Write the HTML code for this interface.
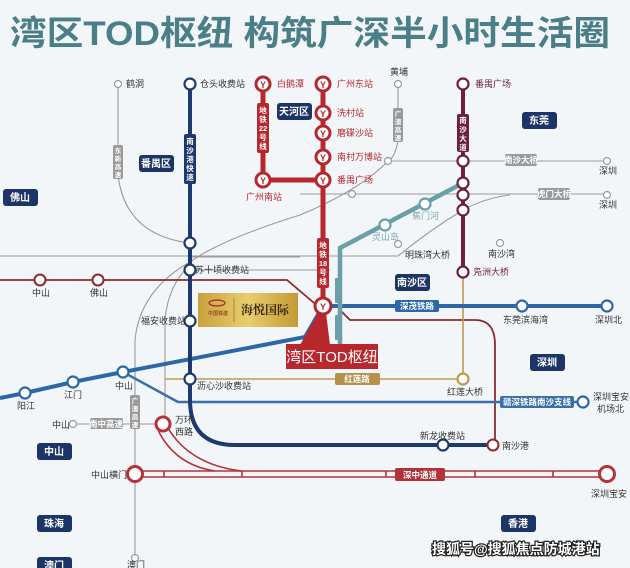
<!DOCTYPE html>
<html><head><meta charset="utf-8"><style>
html,body{margin:0;padding:0;background:#f3f6f8;}
svg{display:block;font-family:"Liberation Sans","Noto Sans CJK SC",sans-serif;}
</style></head><body>
<svg width="630" height="568" viewBox="0 0 630 568" xmlns="http://www.w3.org/2000/svg">
<rect width="630" height="568" fill="#f3f6f8"/>
<text x="10" y="45" font-size="34" font-weight="bold" fill="#4a7f88" font-family="Liberation Sans,Noto Sans CJK SC,sans-serif" textLength="600" lengthAdjust="spacingAndGlyphs">湾区TOD枢纽 构筑广深半小时生活圈</text>

<g fill="none" stroke="#9a9a9a" stroke-width="1.1">
<path d="M118,84 V175 Q125,235 190,243"/>
<path d="M398,84 V140 Q395,158 388,161 Q360,190 300,215 Q220,240 190,262 Q140,290 135,340 V558"/>
<path d="M190,265 Q168,285 165,320 V424"/>
<path d="M388,161 H607"/>
<path d="M300,194 H607"/>
<path d="M190,257 H300"/>
<path d="M190,270 H330"/>
<path d="M0,256 H398 Q430,230 463,210 Q485,198 510,195"/>
<path d="M73,424 H163"/>
</g>

<path d="M0,280 H287 L320,308 M340,310 L350,320 H475 Q495,320 495,345 V440" fill="none" stroke="#8a2c2c" stroke-width="1.8"/>
<path d="M165,379 H463 M463,272 V379" fill="none" stroke="#c09a4e" stroke-width="1.6"/>

<g fill="none" stroke="#b3333a" stroke-width="1.6">
<path d="M135,471 H607 M135,477 H607"/>
<path d="M158,430 Q175,465 215,471 M168,428 Q190,465 242,471"/>
<path d="M164,471 V477 M242,471 V477 M386,471 V477 M475,471 V477 M553,471 V477"/>
</g>

<path d="M123,372 L178,402 H582" fill="none" stroke="#3a6fa8" stroke-width="2.5"/>
<path d="M0,398 L25,393 L73,382 L123,372 L305,337 L323,306 H607" fill="none" stroke="#2c68a8" stroke-width="4"/>
<path d="M190,84 V400 Q190,445 235,445 H493" fill="none" stroke="#1d3a6e" stroke-width="4"/>
<path d="M463,183 L340,248 V345" fill="none" stroke="#6a9ea8" stroke-width="4.5"/>
<path d="M463,84 V272" fill="none" stroke="#6c1f40" stroke-width="4"/>
<path d="M263,84 V180 H323 M323,84 V306" fill="none" stroke="#b7282e" stroke-width="5"/>

<g font-size="7.5" fill="#fff" text-anchor="middle" font-weight="bold">
<rect x="184" y="134" width="12" height="50" rx="2" fill="#1d3a6e"/>
<text x="190" y="144">南</text><text x="190" y="153">沙</text><text x="190" y="162">港</text><text x="190" y="171">快</text><text x="190" y="180">速</text>
<rect x="257" y="103" width="12" height="50" rx="2" fill="#b7282e"/>
<text x="263" y="113">地</text><text x="263" y="122">铁</text><text x="263" y="131">22</text><text x="263" y="140">号</text><text x="263" y="149">线</text>
<rect x="317" y="238" width="12" height="50" rx="2" fill="#b7282e"/>
<text x="323" y="248">地</text><text x="323" y="257">铁</text><text x="323" y="266">18</text><text x="323" y="275">号</text><text x="323" y="284">线</text>
<rect x="457" y="114" width="12" height="38" rx="2" fill="#6c1f40"/>
<text x="463" y="123">南</text><text x="463" y="132">沙</text><text x="463" y="141">大</text><text x="463" y="150">道</text>
<rect x="113" y="145" width="10" height="34" rx="2" fill="#9a9a9a"/>
<text x="118" y="153" font-size="6.5">东</text><text x="118" y="161" font-size="6.5">新</text><text x="118" y="169" font-size="6.5">高</text><text x="118" y="177" font-size="6.5">速</text>
<rect x="393" y="108" width="10" height="34" rx="2" fill="#9a9a9a"/>
<text x="398" y="116" font-size="6.5">广</text><text x="398" y="124" font-size="6.5">澳</text><text x="398" y="132" font-size="6.5">高</text><text x="398" y="140" font-size="6.5">速</text>
<rect x="130" y="395" width="10" height="34" rx="2" fill="#9a9a9a"/>
<text x="135" y="403" font-size="6.5">广</text><text x="135" y="411" font-size="6.5">澳</text><text x="135" y="419" font-size="6.5">高</text><text x="135" y="427" font-size="6.5">速</text>
<rect x="335" y="278" width="7" height="25" rx="1" fill="#6a9ea8"/>
<rect x="335" y="315" width="7" height="25" rx="1" fill="#6a9ea8"/>
<g font-size="8.5">
<rect x="395" y="300" width="44" height="12" rx="2" fill="#2c68a8"/><text x="417" y="309">深茂铁路</text>
<rect x="505" y="154" width="32" height="12" rx="2" fill="#9a9a9a"/><text x="521" y="163">南沙大桥</text>
<rect x="538" y="188" width="32" height="12" rx="2" fill="#9a9a9a"/><text x="554" y="197">虎门大桥</text>
<rect x="335" y="373" width="45" height="12" rx="2" fill="#b5914a"/><text x="357" y="382">红莲路</text>
<rect x="500" y="396" width="74" height="12" rx="2" fill="#3a6fa8"/><text x="537" y="405">赣深铁路南沙支线</text>
<rect x="90" y="418" width="33" height="11" rx="2" fill="#9a9a9a"/><text x="106" y="427">南中高速</text>
<rect x="395" y="468" width="50" height="13" rx="2" fill="#b3333a"/><text x="420" y="478">深中通道</text>
</g>
</g>

<g fill="#fff" stroke="#1d3a6e" stroke-width="2.2">
<circle cx="190" cy="84" r="5.5"/><circle cx="190" cy="243" r="5.5"/><circle cx="190" cy="270" r="5.5"/>
<circle cx="190" cy="321" r="5.5"/><circle cx="190" cy="379" r="5.5"/><circle cx="443" cy="445" r="5.5"/>
</g>
<g fill="#fff" stroke="#2c68a8" stroke-width="2.2">
<circle cx="25" cy="393" r="5.5"/><circle cx="73" cy="382" r="5.5"/><circle cx="123" cy="372" r="5.5"/>
<circle cx="522" cy="306" r="5.5"/><circle cx="607" cy="306" r="5.5"/><circle cx="583" cy="402" r="5.5"/>
</g>
<g fill="#fff" stroke="#6c1f40" stroke-width="2.2">
<circle cx="463" cy="84" r="5.5"/><circle cx="463" cy="161" r="5.5"/><circle cx="463" cy="183" r="5.5"/>
<circle cx="463" cy="195" r="5.5"/><circle cx="463" cy="210" r="5.5"/><circle cx="463" cy="272" r="5.5"/>
</g>
<g fill="#fff" stroke="#6a9ea8" stroke-width="2.2"><circle cx="425" cy="204" r="5.5"/><circle cx="385" cy="225" r="5.5"/></g>
<circle cx="463" cy="379" r="5.5" fill="#fff" stroke="#c09a4e" stroke-width="2.2"/>
<g fill="#fff" stroke="#8a2c2c" stroke-width="2"><circle cx="40" cy="280" r="5.5"/><circle cx="98" cy="280" r="5.5"/><circle cx="493" cy="445" r="5.5"/></g>
<g fill="#fff" stroke="#b3333a" stroke-width="3"><circle cx="163" cy="424" r="7"/><circle cx="135" cy="474" r="7.5"/><circle cx="607" cy="474" r="7.5"/></g>
<g fill="#fff" stroke="#9a9a9a" stroke-width="1.2">
<circle cx="118" cy="84" r="3.5"/><circle cx="398" cy="84" r="3.5"/><circle cx="388" cy="161" r="3.5"/><circle cx="352" cy="194" r="3.5"/>
<circle cx="607" cy="161" r="3.5"/><circle cx="607" cy="195" r="3.5"/><circle cx="398" cy="244" r="3.5"/><circle cx="500" cy="243" r="3.5"/>
<circle cx="73" cy="424" r="3.5"/><circle cx="135" cy="558" r="3.5"/>
</g>
<g fill="#fff" stroke="#b7282e" stroke-width="3">
<circle cx="263" cy="84" r="7"/><circle cx="263" cy="180" r="7"/><circle cx="323" cy="84" r="7"/><circle cx="323" cy="113" r="7"/>
<circle cx="323" cy="133" r="7"/><circle cx="323" cy="157" r="7"/><circle cx="323" cy="180" r="7"/><circle cx="323" cy="306" r="8"/>
</g>
<g fill="#b7282e" font-size="9" text-anchor="middle" font-weight="bold">
<text x="263" y="88">Y</text><text x="263" y="184">Y</text><text x="323" y="88">Y</text><text x="323" y="117">Y</text>
<text x="323" y="137">Y</text><text x="323" y="161">Y</text><text x="323" y="184">Y</text><text x="323" y="310">Y</text>
</g>

<g font-size="9" fill="#333">
<text x="126" y="87">鹤洞</text><text x="200" y="87">仓头收费站</text><text x="195" y="273">苏十顷收费站</text>
<text x="141" y="324">福安收费站</text><text x="197" y="389">沥心沙收费站</text><text x="420" y="439">新龙收费站</text>
<text x="502" y="449">南沙港</text><text x="390" y="75">黄埔</text>
<text x="599" y="174">深圳</text><text x="599" y="208">深圳</text><text x="405" y="258">明珠湾大桥</text><text x="488" y="257">南沙湾</text>
<text x="32" y="296">中山</text><text x="90" y="296">佛山</text><text x="17" y="409">阳江</text><text x="64" y="398">江门</text><text x="115" y="389">中山</text>
<text x="52" y="428">中山</text><text x="175" y="423">万环</text><text x="175" y="435">西路</text>
<text x="91" y="478">中山横门</text><text x="591" y="497">深圳宝安</text>
<text x="503" y="323">东莞滨海湾</text><text x="595" y="323">深圳北</text><text x="447" y="395">红莲大桥</text>
<text x="593" y="400">深圳宝安</text><text x="597" y="412">机场北</text><text x="127" y="568">澳门</text>
</g>
<g font-size="9" fill="#b7282e">
<text x="277" y="87">白鹅潭</text><text x="337" y="87">广州东站</text><text x="337" y="116">洗村站</text><text x="337" y="136">磨碟沙站</text>
<text x="337" y="160">南村万博站</text><text x="337" y="183">番禺广场</text><text x="246" y="200">广州南站</text>
</g>
<g font-size="9" fill="#6c1f40"><text x="475" y="87">番禺广场</text><text x="473" y="275">凫洲大桥</text></g>
<g font-size="9" fill="#7fa8b0"><text x="412" y="219">蕉门河</text><text x="372" y="240">灵山岛</text></g>

<g font-size="10" fill="#fff" text-anchor="middle" font-weight="bold">
<rect x="277" y="103" width="35" height="17" rx="3" fill="#1c3566"/><text x="294" y="115">天河区</text>
<rect x="139" y="155" width="35" height="17" rx="3" fill="#1c3566"/><text x="156" y="167">番禺区</text>
<rect x="3" y="189" width="35" height="17" rx="3" fill="#1c3566"/><text x="20" y="201">佛山</text>
<rect x="522" y="112" width="35" height="17" rx="3" fill="#1c3566"/><text x="539" y="124">东莞</text>
<rect x="395" y="274" width="35" height="17" rx="3" fill="#1c3566"/><text x="412" y="286">南沙区</text>
<rect x="530" y="354" width="35" height="17" rx="3" fill="#1c3566"/><text x="547" y="366">深圳</text>
<rect x="37" y="443" width="35" height="17" rx="3" fill="#1c3566"/><text x="54" y="455">中山</text>
<rect x="37" y="515" width="35" height="17" rx="3" fill="#1c3566"/><text x="54" y="527">珠海</text>
<rect x="501" y="515" width="35" height="17" rx="3" fill="#1c3566"/><text x="518" y="527">香港</text>
<rect x="37" y="557" width="35" height="17" rx="3" fill="#1c3566"/><text x="54" y="569">澳门</text>
</g>

<defs><linearGradient id="g" x1="0" x2="1"><stop offset="0" stop-color="#c9a13c"/><stop offset="0.5" stop-color="#e8cd6e"/><stop offset="1" stop-color="#c49a34"/></linearGradient></defs>
<rect x="198" y="293" width="100" height="34" fill="url(#g)"/>
<ellipse cx="217" cy="303" rx="8" ry="3" fill="none" stroke="#a0282a" stroke-width="1.2"/>
<text x="208" y="315" font-size="5" fill="#7a1a1a">中国铁建</text>
<line x1="234" y1="298" x2="234" y2="322" stroke="#8a6a20" stroke-width="0.6"/>
<text x="241" y="314" font-size="12" fill="#3a2a10" font-weight="bold" font-family="Liberation Serif,Noto Serif CJK SC,serif">海悦国际</text>

<path d="M318,313 L326,313 L330,345 L300,345 Z" fill="#b7282e"/>
<rect x="286" y="344" width="92" height="25" fill="#b7282e"/>
<text x="332" y="362" font-size="15" fill="#fff" text-anchor="middle">湾区TOD枢纽</text>

<text x="432" y="554" font-size="14" font-weight="bold" fill="#fff" stroke="#222" stroke-width="2.5" paint-order="stroke">搜狐号@搜狐焦点防城港站</text>
</svg>
</body></html>
